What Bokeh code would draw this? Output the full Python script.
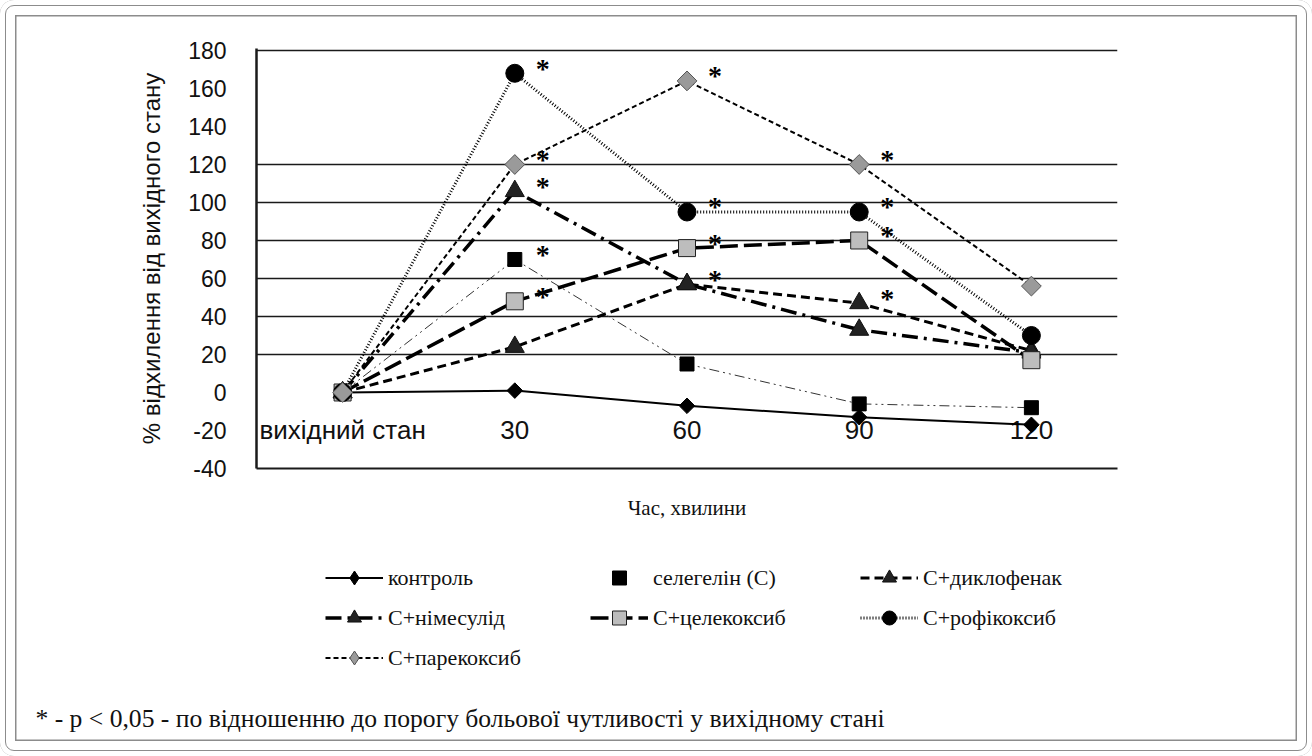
import numpy as np
from bokeh.plotting import figure
from bokeh.layouts import column
from bokeh.models import (Range1d, FixedTicker, Legend, LegendItem, Label)
from bokeh.core.properties import value
from bokeh.embed import file_html
from bokeh.resources import INLINE

# ---------------- data ----------------
categories = ["вихідний стан", "30", "60", "90", "120"]
series_names = ["контроль", "селегелін (С)", "С+диклофенак", "С+німесулід",
                "С+целекоксиб", "С+рофікоксиб", "С+парекоксиб"]
control = [0, 1, -7, -13, -17]
selegiline = [0, 70, 15, -6, -8]
diclofenac = [0, 24, 57, 47, 22]
nimesulide = [0, 106, 57, 33, 21]
celecoxib = [0, 48, 76, 80, 17]
rofecoxib = [0, 168, 95, 95, 30]
parecoxib = [0, 120, 164, 120, 56]
# significance marks "*" : (series index, category index)
star_series = [5, 6, 3, 1, 4, 6, 5, 4, 2, 6, 5, 4, 2]
star_cat = [1, 1, 1, 1, 1, 2, 2, 2, 2, 3, 3, 3, 3]
y_ticks = list(range(-40, 181, 20))
grid_values = [20, 40, 60, 80, 100, 120, 180]
x_title = "Час, хвилини"
y_title = "% відхилення від вихідного стану"
footnote = "* - p < 0,05 - по відношенню до порогу больової чутливості у вихідному стані"

values_all = [control, selegiline, diclofenac, nimesulide, celecoxib, rofecoxib, parecoxib]

# ---------------- styles ----------------
styles = [
    dict(line=dict(line_color="black", line_width=2), marker="square", angle=np.pi / 4,
         legend_marker="diamond", size=11, fill="black", edge="black", legend_line=True),
    dict(line=dict(line_color="#333333", line_width=1, line_dash="10 4 2 4 2 4"), marker="square",
         angle=0, legend_marker="square", size=14, fill="black", edge="black", legend_line=False),
    dict(line=dict(line_color="black", line_width=3, line_dash="9 5"), marker="triangle",
         angle=0, legend_marker="triangle", size=19, fill="#222222", edge="#111111", legend_line=True),
    dict(line=dict(line_color="black", line_width=3.5, line_dash="16 6 3 6"), marker="triangle",
         angle=0, legend_marker="triangle", size=19, fill="#222222", edge="#111111", legend_line=True),
    dict(line=dict(line_color="black", line_width=3.5, line_dash="18 6"), marker="square",
         angle=0, legend_marker="square", size=17, fill="#bdbdbd", edge="#222222", legend_line=True),
    dict(line=dict(line_color="black", line_width=3, line_dash="1 2"), marker="circle",
         angle=0, legend_marker="circle", size=18, fill="black", edge="black", legend_line=True),
    dict(line=dict(line_color="black", line_width=2, line_dash="5 3"), marker="square",
         angle=np.pi / 4, legend_marker="diamond", size=14, fill="#9a9a9a", edge="#555555",
         legend_line=True),
]

W = 1312
H1, H2 = 540, 216
FL, FR, FT, FB = 256, 1117, 48, 468   # plot frame in page pixels

x_lo, x_hi = -0.5, 4.5
p = figure(width=W, height=H1, output_backend="svg", toolbar_location=None,
           x_range=Range1d(x_lo, x_hi), y_range=Range1d(-40, 181.05),
           min_border_left=FL, min_border_right=W - FR,
           min_border_top=FT, min_border_bottom=H1 - FB)
p.frame_align = False
p.outline_line_color = None
p.background_fill_alpha = 0
p.border_fill_alpha = 0

# x axis: only the bottom frame line + title
p.xaxis.ticker = FixedTicker(ticks=[])
p.xaxis.major_tick_line_color = None
p.xaxis.minor_tick_line_color = None
p.xaxis.axis_line_width = 2
p.xaxis.axis_line_color = "#1a1a1a"
p.xaxis.axis_label = x_title
p.xaxis.axis_label_text_font = "Liberation Serif"
p.xaxis.axis_label_text_font_size = "21px"
p.xaxis.axis_label_text_font_style = "normal"
p.xaxis.axis_label_text_color = "#111111"
p.xaxis.axis_label_standoff = 27
p.xgrid.visible = False

# y axis: frame line, labels, title
ya = p.yaxis[0]
ya.ticker = FixedTicker(ticks=y_ticks)
ya.axis_line_width = 2.5
ya.axis_line_color = "#1a1a1a"
ya.major_tick_line_color = None
ya.minor_tick_line_color = None
ya.major_label_overrides = {t: str(t) for t in y_ticks}
ya.major_label_standoff = 24
ya.major_label_text_font = "Liberation Sans"
ya.major_label_text_font_size = "23px"
ya.major_label_text_color = "#111111"
ya.axis_label = y_title
ya.axis_label_text_font = "Liberation Sans"
ya.axis_label_text_font_size = "24px"
ya.axis_label_text_font_style = "normal"
ya.axis_label_text_color = "#111111"
ya.axis_label_standoff = 20

p.ygrid.ticker = FixedTicker(ticks=grid_values)
p.ygrid.grid_line_color = "#1a1a1a"
p.ygrid.grid_line_width = 1.6
p.ygrid.bounds = (x_lo - 10 / ((FR - FL) / (x_hi - x_lo)), x_hi)

xs = list(range(len(categories)))
label_level = -20

# category labels placed inside the plot area
p.text(x=xs, y=[label_level] * len(categories), text=categories,
       text_font=value("Liberation Sans"), text_font_size="26px",
       text_align="center", text_baseline="middle", text_color="#111111")

for vals, st in zip(values_all, styles):
    p.line(xs, vals, **st["line"])
for vals, st in zip(values_all, styles):
    p.scatter(xs, vals, marker=st["marker"], angle=st["angle"], size=st["size"],
              fill_color=st["fill"], line_color=st["edge"], line_width=1)

# significance stars
sx = [star_cat[i] for i in range(len(star_cat))]
sy = [values_all[star_series[i]][star_cat[i]] for i in range(len(star_cat))]
p.text(x=sx, y=sy, text=["*"] * len(sx), x_offset=28, y_offset=-5,
       text_font=value("Liberation Serif"), text_font_size="28px", text_font_style="bold",
       text_align="center", text_baseline="middle", text_color="black")

# ---------------- lower part: legend + footnote ----------------
q = figure(width=W, height=H2, output_backend="svg", toolbar_location=None,
           x_range=Range1d(0, W), y_range=Range1d(H1 + H2, H1),
           x_axis_type=None, y_axis_type=None, min_border=0)
q.frame_align = False
q.outline_line_color = None
q.background_fill_alpha = 0
q.border_fill_alpha = 0
q.xgrid.visible = False
q.ygrid.visible = False

# renderers used only as legend samples (same data, lying outside this panel's view)
q_line = [q.line(xs, vals, **st["line"]) for vals, st in zip(values_all, styles)]
q_mark = [q.scatter(xs, vals, marker=st["legend_marker"], size=st["size"],
                    fill_color=st["fill"], line_color=st["edge"], line_width=1)
          for vals, st in zip(values_all, styles)]

def item(i):
    rs = [q_line[i], q_mark[i]] if styles[i]["legend_line"] else [q_mark[i]]
    return LegendItem(label=series_names[i], renderers=rs)

legend_cols = [[0, 3, 6], [1, 4], [2, 5]]
col_x = [325, 590, 860]
row_h, gap = 35, 5
legend_top = 560
for cols, cx in zip(legend_cols, col_x):
    n = len(cols)
    hgt = n * row_h + (n - 1) * gap
    leg = Legend(items=[item(i) for i in cols],
                 location=(cx, (H1 + H2) - (legend_top + hgt)),
                 orientation="vertical", spacing=gap, glyph_width=58, glyph_height=row_h,
                 label_height=row_h, label_standoff=5, padding=0, margin=0,
                 border_line_alpha=0, background_fill_alpha=0,
                 label_text_font="Liberation Serif", label_text_font_size="22px",
                 label_text_color="#111111")
    q.add_layout(leg)

q.add_layout(Label(x=35, y=718, text=footnote,
                   text_font="Liberation Serif", text_font_size="25.6px",
                   text_baseline="middle", text_color="#111111"))

layout = column(p, q, spacing=0, styles={
    "background-color": "white",
    "border-radius": "14px",
    "outline": "1.5px solid #8c8c8c",
    "outline-offset": "-6px",
    "box-shadow": "inset 0 0 0 15px white, inset 0 0 0 16.5px #8c8c8c",
})

open("out.html", "w").write(file_html(layout, INLINE))
